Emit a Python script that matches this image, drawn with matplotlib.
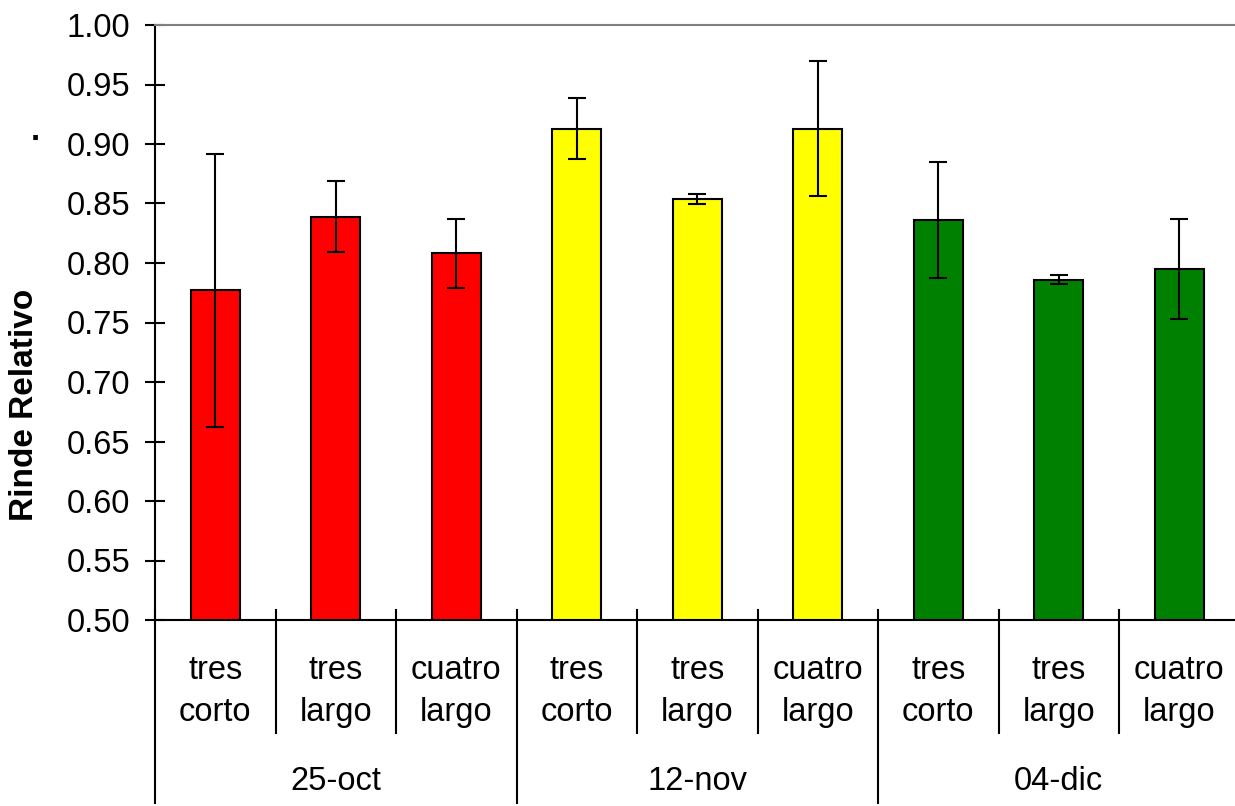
import matplotlib.pyplot as plt
import matplotlib.transforms as mtransforms

# datos
fechas = ['25-oct', '12-nov', '04-dic']
tratamientos = ['tres\ncorto', 'tres\nlargo', 'cuatro\nlargo']
rinde = [0.777, 0.839, 0.808,
         0.913, 0.854, 0.913,
         0.836, 0.786, 0.795]
error = [0.115, 0.030, 0.029,
         0.026, 0.004, 0.057,
         0.049, 0.004, 0.042]
colores_fecha = ['#FF0000', '#FFFF00', '#008000']

plt.rcParams['font.family'] = ['Liberation Sans', 'DejaVu Sans']
fs = 23.5

fig = plt.figure(figsize=(12.35, 8.06), dpi=100)
ax = fig.add_axes([155 / 1235, 1 - 620 / 806, 1084.5 / 1235, 595 / 806])

n = len(rinde)
x = list(range(n))
colores = [colores_fecha[i // 3] for i in range(n)]

ax.bar(x, rinde, width=0.41, color=colores, edgecolor='black', linewidth=1.5,
       yerr=error, error_kw=dict(ecolor='black', elinewidth=1.5, capsize=6.5, capthick=1.5),
       zorder=2)

ax.set_xlim(-0.5, n - 0.5)
ax.set_ylim(0.5, 1.0)
ax.set_yticks([0.5 + 0.05 * i for i in range(11)])
ax.set_yticklabels([f'{0.5 + 0.05 * i:.2f}' for i in range(11)], fontsize=fs)
ax.tick_params(axis='y', direction='inout', length=14, width=1.5, pad=11)
ax.set_xticks([])

ax.spines['right'].set_visible(False)
ax.spines['top'].set_color('#808080')
ax.spines['top'].set_linewidth(1.5)
ax.spines['left'].set_linewidth(1.5)
ax.spines['bottom'].set_linewidth(1.5)

# eje de categorias en dos niveles
trans = mtransforms.blended_transform_factory(ax.transData, ax.transAxes)
for k in range(n + 1):
    xpos = k - 0.5
    fondo = -0.3076 if k % 3 == 0 else -0.19
    ax.plot([xpos, xpos], [0.0168, fondo], color='black', lw=1.5,
            transform=trans, clip_on=False)

for i in range(n):
    ax.text(x[i], -0.12, tratamientos[i % 3], transform=trans, ha='center',
            va='center', fontsize=fs, linespacing=1.45)

for g, f in enumerate(fechas):
    ax.text(3 * g + 1, -0.272, f, transform=trans, ha='center', va='center',
            fontsize=fs)

fig.text(25 / 1235, 1 - 405 / 806, 'Rinde Relativo', rotation=90, ha='center',
         va='center', fontsize=24, fontweight='bold')
fig.text(35 / 1235, 1 - 132 / 806, '.', ha='center', va='center',
         fontsize=fs, fontweight='bold')

fig.savefig('out.png', dpi=100)
